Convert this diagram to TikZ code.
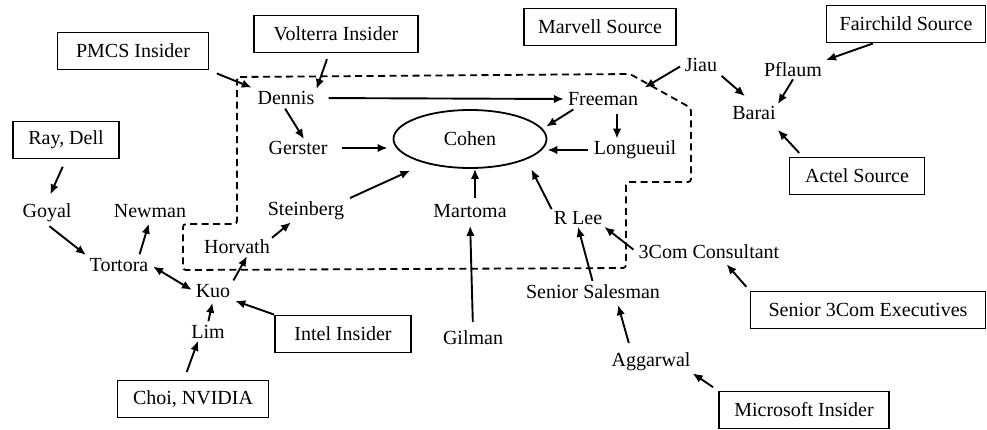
\documentclass[tikz,border=0pt]{standalone}
\usepackage{fontspec}
\setmainfont{Liberation Serif}
\usetikzlibrary{arrows.meta, shapes.geometric}

\tikzset{
	hd/.tip = {Latex[length=10pt, width=8.5pt]},
	who/.style = {inner sep=2pt, font=\fontsize{20}{24}\selectfont},
	src/.style = {draw, line width=1.9pt, inner xsep=4pt, minimum height=37pt, font=\fontsize{20}{24}\selectfont},
	arr/.style = {-hd, line width=1.9pt},
	ring/.style = {dashed, dash pattern=on 7pt off 4.5pt, line width=1.8pt},
}

\begin{document}
\begin{tikzpicture}[x=1pt, y=-1pt]
		\useasboundingbox (0,0) rectangle (987,429);

		\draw [ring, rounded corners=3pt] (237,77) -- (630,74) -- (691,108) -- (691,182) -- (626,182) -- (626,268) -- (183,270) -- (183,224) -- (237,224) -- cycle;

		\node [src, minimum width=151pt] (pmcs) at (133,51) {PMCS Insider};
		\node [src, minimum width=164pt] (vol) at (336,34) {Volterra Insider};
		\node [src, minimum width=152pt] (mvl) at (600,27) {Marvell Source};
		\node [src, minimum width=159pt] (fai) at (906,24) {Fairchild Source};
		\node [src, minimum width=106pt] (ray) at (66,140) {Ray, Dell};
		\node [src, minimum width=135pt] (act) at (857,176) {Actel Source};
		\node [src, minimum width=136pt] (int) at (343,334) {Intel Insider};
		\node [src, minimum width=151pt] (cho) at (193,399) {Choi, NVIDIA};
		\node [src, minimum width=235pt] (sen) at (868,310) {Senior 3Com Executives};
		\node [src, minimum width=170pt] (mic) at (804,410) {Microsoft Insider};

		\node [who, draw, ellipse, line width=1.8pt, minimum width=153pt, minimum height=58pt] (coh) at (470,139) {Cohen};
		\node [who] (den) at (286,98) {Dennis};
		\node [who] (ger) at (298,148) {Gerster};
		\node [who] (fre) at (603,99) {Freeman};
		\node [who] (lon) at (635,150) {Longueuil};
		\node [who] (jia) at (701,65) {Jiau};
		\node [who] (pfl) at (793,70) {Pflaum};
		\node [who] (bar) at (754,113) {Barai};
		\node [who] (goy) at (47,213) {Goyal};
		\node [who] (nwm) at (150,211) {Newman};
		\node [who] (ste) at (306,211) {Steinberg};
		\node [who] (mar) at (470,211) {Martoma};
		\node [who] (rle) at (578,218) {R Lee};
		\node [who] (hor) at (237,247) {Horvath};
		\node [who] (tor) at (119,265) {Tortora};
		\node [who] (kuo) at (213,291) {Kuo};
		\node [who] (lim) at (208,332) {Lim};
		\node [who] (con) at (709,252) {3Com Consultant};
		\node [who] (sal) at (593,292) {Senior Salesman};
		\node [who] (gil) at (473,338) {Gilman};
		\node [who] (agg) at (651,362) {Aggarwal};

		\draw [arr, shorten <=8pt, shorten >=4pt] (pmcs.south east) -- (den.north west);
		\draw [arr, shorten <=6pt] (vol.250) -- (den.north east);
		\draw [arr, shorten <=12pt, shorten >=2pt] (den.east) -- (fre.west);
		\draw [arr, shorten <=2pt] ([xshift=-2pt]den.south) -- ([xshift=6pt]ger.north);
		\draw [arr, shorten <=12pt, shorten >=5pt] (ger.east) -- (coh.west |- ger.east);
		\draw [arr, shorten <=3pt, shorten >=4pt] ([xshift=10pt]fre.south west) -- (coh.8);
		\draw [arr, shorten <=6pt] ([xshift=14pt]fre.south) -- ([xshift=-18pt]lon.north);
		\draw [arr, shorten <=4pt] (lon.west) -- (coh.east |- lon.west);
		\draw [arr, shorten <=4pt, shorten >=17pt] (ste.north east) -- (coh.209);
		\draw [arr, shorten <=4pt] ([xshift=5pt]mar.north) -- ([xshift=5pt]coh.south);
		\draw [arr, shorten >=11pt] (rle.north west) -- (coh.-20);
		\draw [arr, shorten <=3pt, shorten >=5pt] (jia.west) -- (fre.north east);
		\draw [arr, shorten <=3pt, shorten >=12pt] (jia.south east) -- (bar.north);
		\draw [arr] (pfl.south) -- (bar.north east);
		\draw [arr, shorten >=2pt] ([xshift=-33pt]fai.south) -- (pfl.north east);
		\draw [arr, shorten <=5pt] ([xshift=14pt]act.north west) -- ([yshift=-8pt]bar.south east);
		\draw [arr, shorten <=8pt, shorten >=8pt] (ray.south) -- (goy.north);
		\draw [arr, shorten <=3pt, shorten >=2pt] (goy.south) -- (tor.north west);
		\draw [arr, shorten <=2pt, shorten >=4pt] ([xshift=20pt]tor.north) -- (nwm.south);
		\draw [arr, hd-hd, shorten <=3pt, shorten >=2pt] (tor.east) -- (kuo.west);
		\draw [arr, shorten <=2pt] (kuo.north east) -- ([xshift=10pt]hor.south);
		\draw [arr] (hor.north east) -- ([xshift=-15pt]ste.south);
		\draw [arr, shorten >=3pt] (int.north west) -- (kuo.south east);
		\draw [arr, shorten <=2pt, shorten >=3pt] (lim.north) -- (kuo.south);
		\draw [arr, shorten <=8pt] ([xshift=-9pt]cho.north) -- ([xshift=-10pt]lim.south);
		\draw [arr, shorten <=7pt, shorten >=6pt] (gil.north) -- (mar.south);
		\draw [arr, shorten <=2pt] (sal.north) -- (rle.south);
		\draw [arr, shorten <=4pt] (con.west) -- (rle.south east);
		\draw [arr, shorten <=8pt, shorten >=4pt] ([xshift=-20pt]agg.north) -- ([xshift=24pt]sal.south);
		\draw [arr, shorten <=5pt, shorten >=4pt] (sen.north west) -- ([xshift=15pt]con.south);
		\draw [arr, shorten <=6pt] (mic.north west) -- (agg.south east);
	\end{tikzpicture}
\end{document}
